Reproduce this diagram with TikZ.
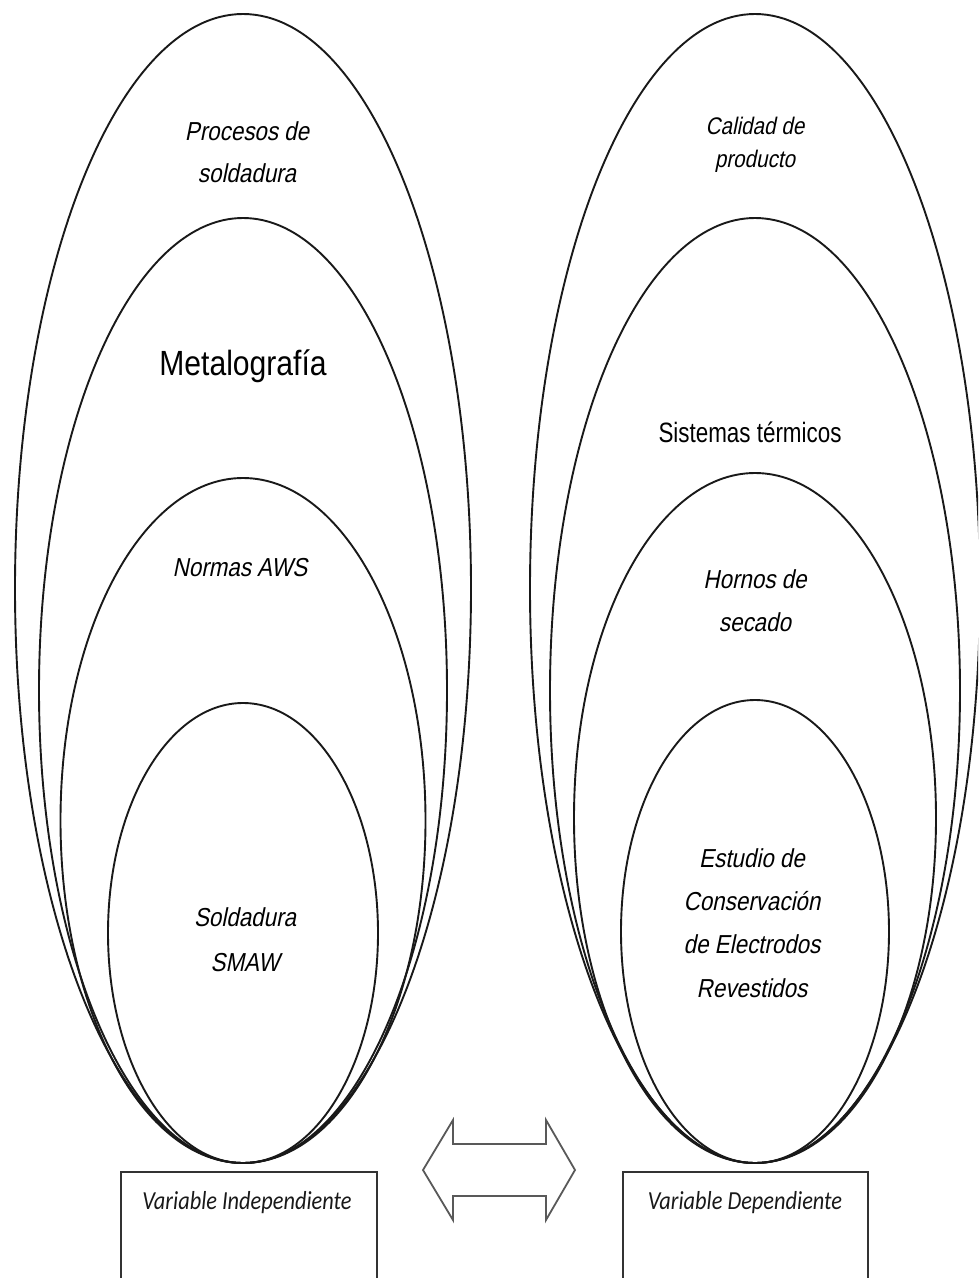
\documentclass[tikz,border=0pt]{standalone}
\usepackage{fontspec}
\usetikzlibrary{shapes.geometric}
% Arial-like labels, set a little narrow; the slanted cut is an oblique
\newfontfamily\labfont{Liberation Sans}[FakeStretch=0.86]
\newfontfamily\labit{Liberation Sans}[FakeStretch=0.86, FakeSlant=0.2]
\newfontfamily\narrowfont{Liberation Sans}[FakeStretch=0.80]
\newfontfamily\boxfont{Carlito}[FakeStretch=0.86]
\begin{document}
\begin{tikzpicture}[x=1pt,y=-1pt,
  ring/.style={draw=black!90, line width=1.9pt, ellipse, inner sep=0pt, outer sep=0pt},
  lab/.style={align=center, text=black, font=\labit\fontsize{26}{42}\selectfont},
  varbox/.style={draw=black!80, line width=1.8pt, rectangle, inner sep=0pt, anchor=north west},
  boxtext/.style={text=black!90, font=\boxfont\itshape\fontsize{26}{30}\selectfont},
  twoway/.style={draw=black!65, line width=1.8pt, line join=miter}
]
\useasboundingbox (0,0) rectangle (978,1278);
\clip (0,0) rectangle (978,1278);

% independent-variable rings (left), all touching at the bottom
\node[ring, minimum width=456pt, minimum height=1149pt] (l1) at (243,588.5) {};
\node[ring, minimum width=408pt, minimum height=945pt]  (l2) at (243,690.5) {};
\node[ring, minimum width=365pt, minimum height=685pt]  (l3) at (243,820.5) {};
\node[ring, minimum width=270pt, minimum height=460pt]  (l4) at (243,933) {};

% dependent-variable rings (right)
\node[ring, minimum width=450pt, minimum height=1149pt] (r1) at (755,588.5) {};
\node[ring, minimum width=410pt, minimum height=945pt]  (r2) at (755,690.5) {};
\node[ring, minimum width=362pt, minimum height=690pt]  (r3) at (755,818) {};
\node[ring, minimum width=268pt, minimum height=463pt]  (r4) at (755,931.5) {};

% labels of the left rings
\node[lab] (tproc) at (247,152) {Procesos de\\soldadura};
\node[align=center, text=black, font=\labfont\fontsize{35}{40}\selectfont] (tmetal) at (243,366) {Metalografía};
\node[lab] (tnorm) at (240,568) {Normas AWS};
\node[lab, font=\labit\fontsize{26}{45}\selectfont] (tsmaw) at (245,940) {Soldadura\\SMAW};

% labels of the right rings
\node[lab, font=\labit\fontsize{24}{33}\selectfont] (tcal) at (755,145) {Calidad de\\producto};
\node[align=center, text=black, font=\narrowfont\fontsize{28}{30}\selectfont] (tsist) at (750,432) {Sistemas térmicos};
\node[lab, font=\labit\fontsize{26}{43}\selectfont] (thorn) at (755,601) {Hornos de\\secado};
\node[lab, font=\labit\fontsize{26}{43.3}\selectfont] (test) at (752,923) {Estudio de\\Conservación\\de Electrodos\\Revestidos};

% variable boxes, running off the lower edge
\node[varbox, minimum width=256pt, minimum height=140pt] (bind) at (120,1171) {};
\node[varbox, minimum width=245pt, minimum height=140pt] (bdep) at (622,1171) {};
\node[boxtext] (tind) at (247,1203) {Variable Independiente};
\node[boxtext] (tdep) at (745,1203) {Variable Dependiente};

% two-headed outline arrow between the boxes
\coordinate (al) at (423,1170);
\coordinate (ar) at (575,1170);
\draw[twoway] (al) -- (453,1120) -- (453,1144) -- (546,1144) -- (546,1120)
  -- (ar) -- (546,1220) -- (546,1196) -- (453,1196) -- (453,1220) -- cycle;
\end{tikzpicture}
\end{document}
